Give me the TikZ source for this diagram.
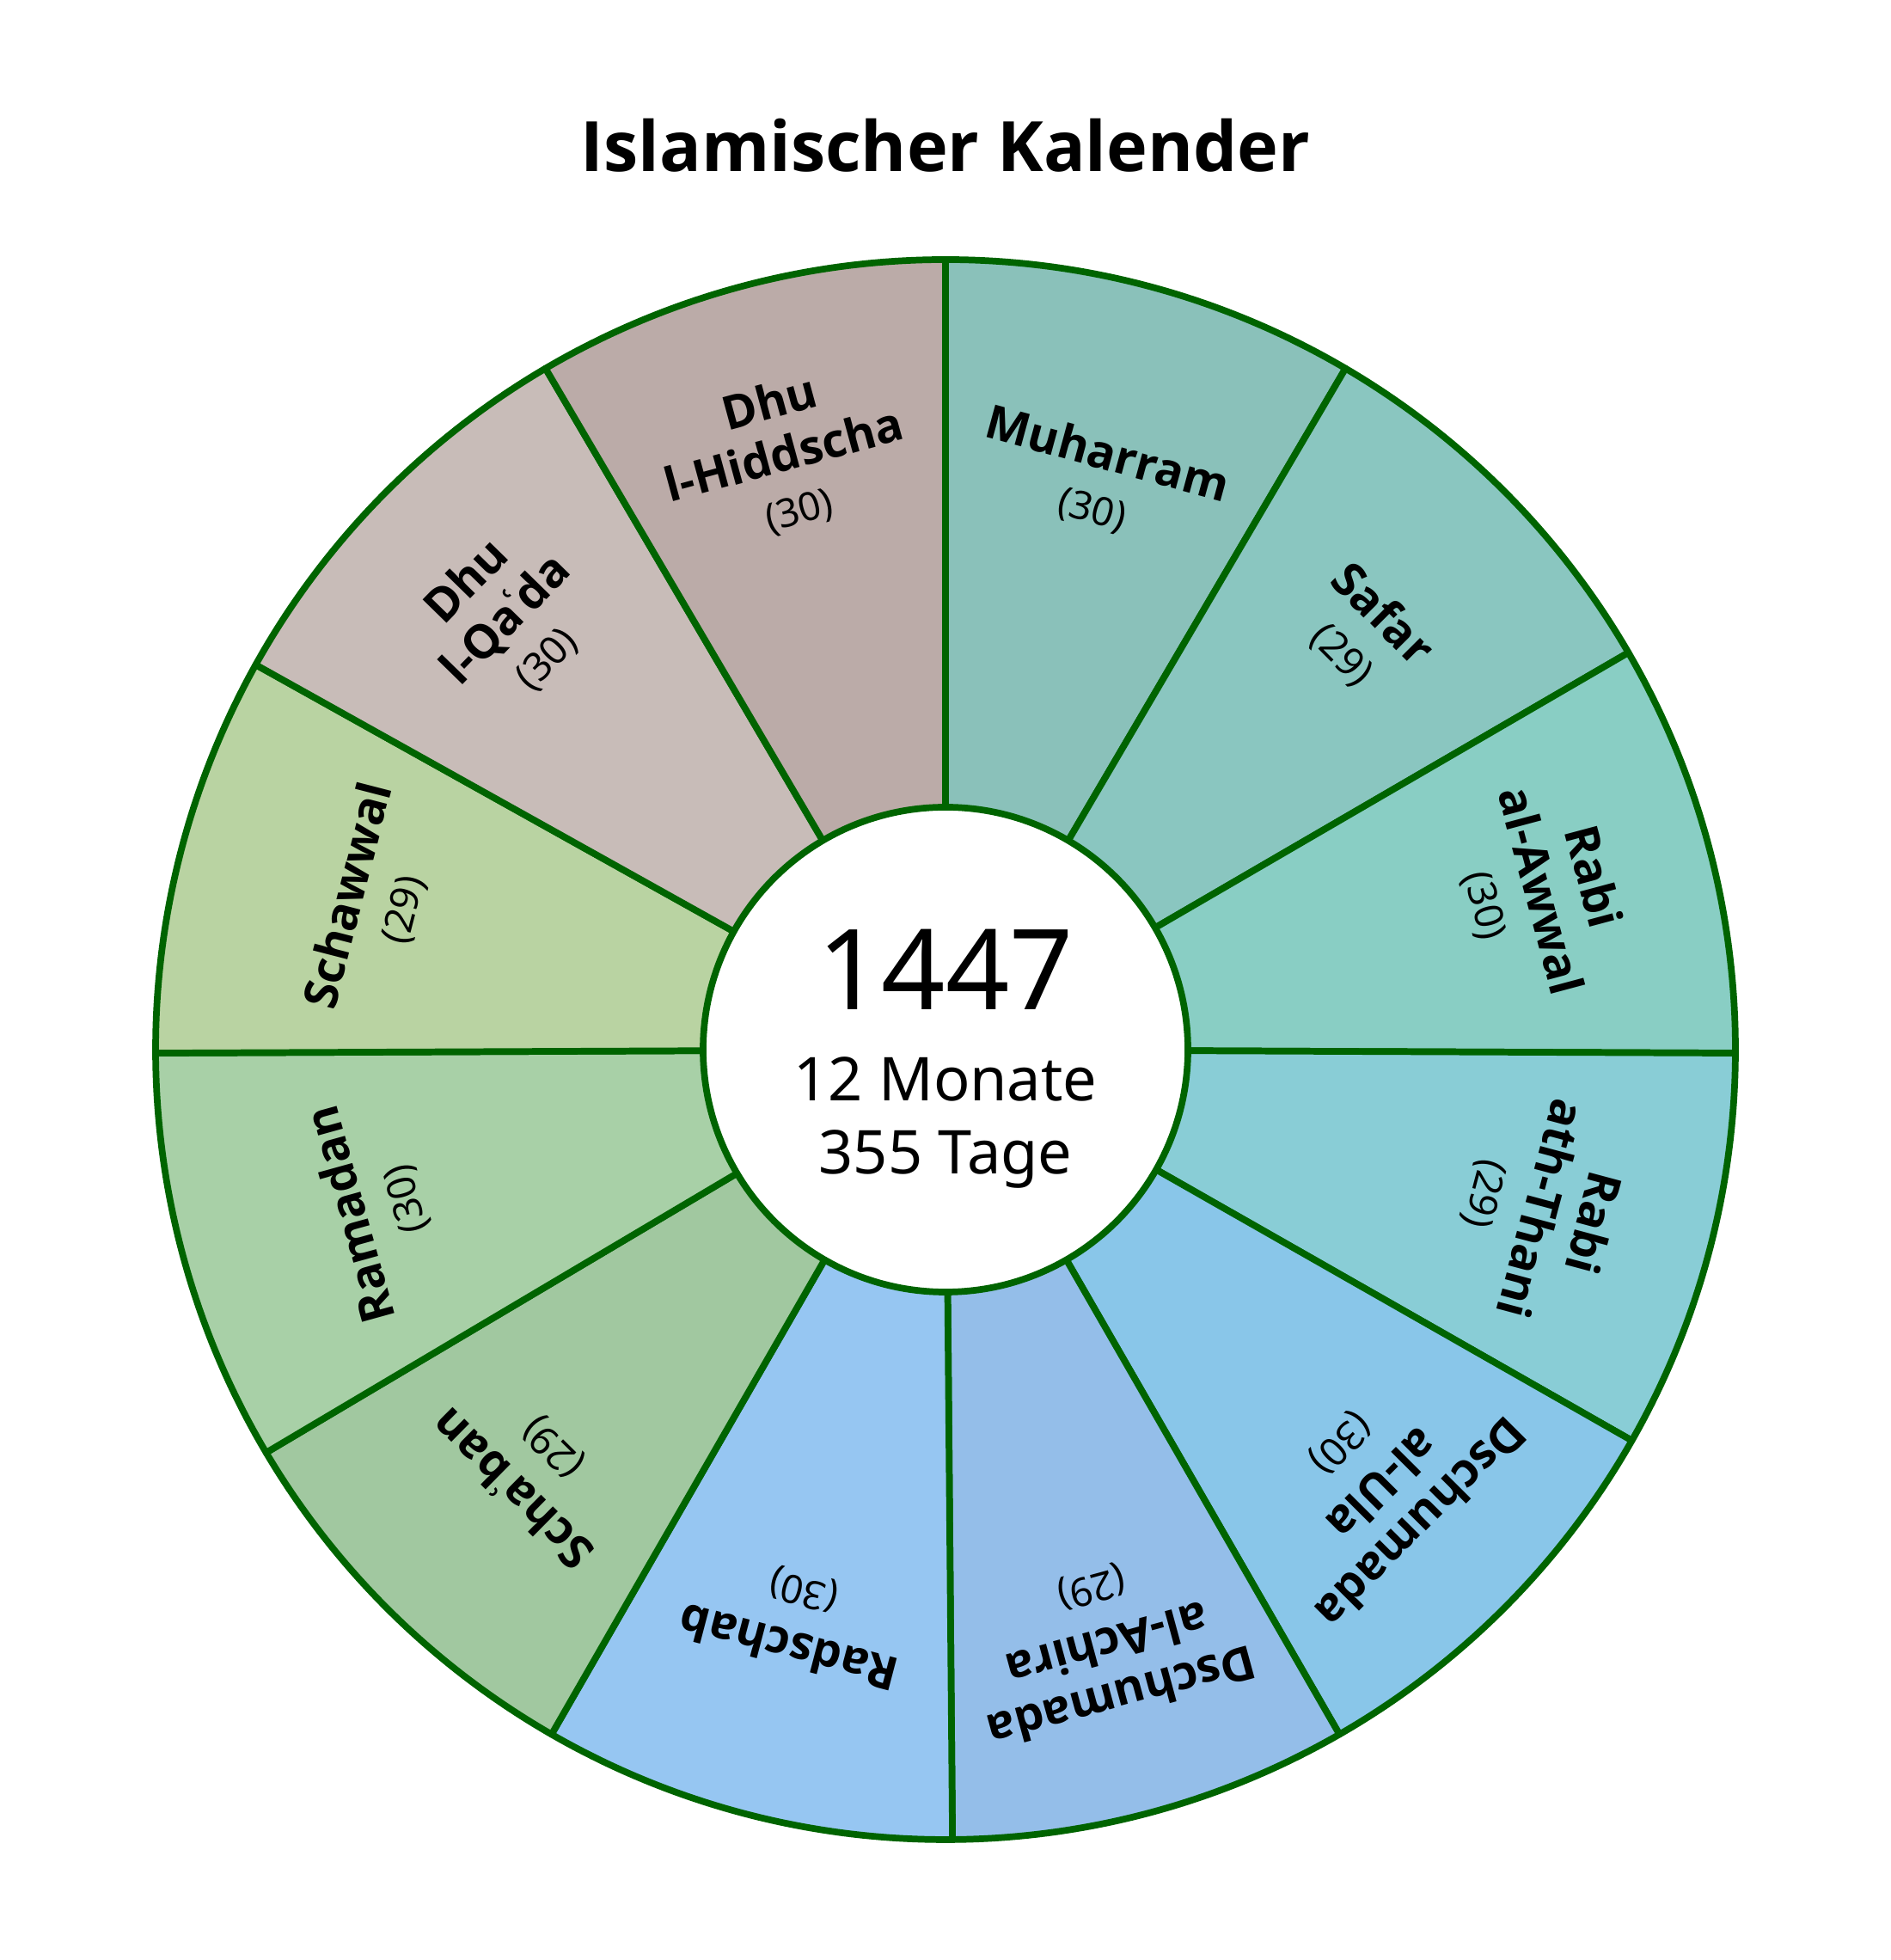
\documentclass[tikz,border=0pt]{standalone}
\usepackage{fontspec}
\setmainfont{Noto Sans}
\newfontfamily\headfont{Open Sans}
\definecolor{rim}{HTML}{006400}
\definecolor{fmuharram}{HTML}{8AC1BA}
\definecolor{fsafar}{HTML}{8AC6C0}
\definecolor{fawwal}{HTML}{89CEC4}
\definecolor{fthani}{HTML}{89CDD6}
\definecolor{fula}{HTML}{89C6E9}
\definecolor{fachira}{HTML}{94BEE9}
\definecolor{fradschab}{HTML}{96C6F2}
\definecolor{fschaban}{HTML}{A1C8A0}
\definecolor{framadan}{HTML}{A8D0A7}
\definecolor{fschawwal}{HTML}{B9D3A2}
\definecolor{fqada}{HTML}{C8BCB8}
\definecolor{fhiddscha}{HTML}{BBABA8}
\newcommand{\mname}[1]{{\headfont\bfseries #1}}
\newcommand{\mdays}[1]{{\fontsize{13}{18}\selectfont(#1)}}
\newcommand{\ain}{{\normalfont ʿ}}

\begin{document}
\begin{tikzpicture}
			[line width=2.2pt, sector/.style={draw=rim, line join=round},
			month/.style={align=center, font=\fontsize{15.5}{18}\selectfont}]
			\useasboundingbox (0,0) rectangle (22,22.8);
			\node[anchor=base, font=\headfont\bfseries\fontsize{23}{28}\selectfont] (title) at (11,20.8) {Islamischer Kalender};
			\begin{scope}[shift={(11,10.59)}]
				\filldraw[sector, fill=fmuharram] (0,0) -- (90:9.19) arc[start angle=90, end angle=59.577, radius=9.19] -- cycle;
				\filldraw[sector, fill=fsafar] (0,0) -- (59.577:9.19) arc[start angle=59.577, end angle=30.169, radius=9.19] -- cycle;
				\filldraw[sector, fill=fawwal] (0,0) -- (30.169:9.19) arc[start angle=30.169, end angle=-0.254, radius=9.19] -- cycle;
				\filldraw[sector, fill=fthani] (0,0) -- (-0.254:9.19) arc[start angle=-0.254, end angle=-29.662, radius=9.19] -- cycle;
				\filldraw[sector, fill=fula] (0,0) -- (-29.662:9.19) arc[start angle=-29.662, end angle=-60.085, radius=9.19] -- cycle;
				\filldraw[sector, fill=fachira] (0,0) -- (-60.085:9.19) arc[start angle=-60.085, end angle=-89.493, radius=9.19] -- cycle;
				\filldraw[sector, fill=fradschab] (0,0) -- (-89.493:9.19) arc[start angle=-89.493, end angle=-119.915, radius=9.19] -- cycle;
				\filldraw[sector, fill=fschaban] (0,0) -- (-119.915:9.19) arc[start angle=-119.915, end angle=-149.324, radius=9.19] -- cycle;
				\filldraw[sector, fill=framadan] (0,0) -- (-149.324:9.19) arc[start angle=-149.324, end angle=-179.746, radius=9.19] -- cycle;
				\filldraw[sector, fill=fschawwal] (0,0) -- (-179.746:9.19) arc[start angle=-179.746, end angle=-209.155, radius=9.19] -- cycle;
				\filldraw[sector, fill=fqada] (0,0) -- (-209.155:9.19) arc[start angle=-209.155, end angle=-239.577, radius=9.19] -- cycle;
				\filldraw[sector, fill=fhiddscha] (0,0) -- (-239.577:9.19) arc[start angle=-239.577, end angle=-270, radius=9.19] -- cycle;
				\filldraw[sector, fill=white] (0,0) circle (2.82);
				% month names
				\node[month, rotate=-15.211] (muharram) at (74.789:6.85) {\mname{Muharram}\\\mdays{30}};
				\node[month, rotate=-45.127] (safar) at (44.873:6.85) {\mname{Safar}\\\mdays{29}};
				\node[month, rotate=-75.042] (awwal) at (14.958:7.15) {\mname{Rabi}\\\mname{al-Awwal}\\\mdays{30}};
				\node[month, rotate=-104.958] (thani) at (-14.958:7.15) {\mname{Rabi}\\\mname{ath-Thani}\\\mdays{29}};
				\node[month, rotate=-134.873] (ula) at (-44.873:7.15) {\mname{Dschumada}\\\mname{al-Ula}\\\mdays{30}};
				\node[month, rotate=-164.789] (achira) at (-74.789:7.15) {\mname{Dschumada}\\\mname{al-Achira}\\\mdays{29}};
				\node[month, rotate=-194.704] (radschab) at (-104.704:6.85) {\mname{Radschab}\\\mdays{30}};
				\node[month, rotate=-224.620] (schaban) at (-134.620:6.85) {\mname{Scha\ain ban}\\\mdays{29}};
				\node[month, rotate=-254.535] (ramadan) at (-164.535:6.85) {\mname{Ramadan}\\\mdays{30}};
				\node[month, rotate=-284.451] (schawwal) at (-194.451:6.85) {\mname{Schawwal}\\\mdays{29}};
				\node[month, rotate=-314.366] (qada) at (-224.366:7.15) {\mname{Dhu}\\\mname{l-Qa\ain da}\\\mdays{30}};
				\node[month, rotate=-344.789] (hiddscha) at (-254.789:7.15) {\mname{Dhu}\\\mname{l-Hiddscha}\\\mdays{30}};
				% year in the middle
				\node[anchor=base, font=\fontsize{37}{40}\selectfont] (year) at (0,0.46) {1447};
				\node[anchor=base, font=\fontsize{20}{24}\selectfont] (months) at (0,-0.6) {12 Monate};
				\node[anchor=base, font=\fontsize{20}{24}\selectfont] (days) at (0,-1.45) {355 Tage};
			\end{scope}
		\end{tikzpicture}
\end{document}
